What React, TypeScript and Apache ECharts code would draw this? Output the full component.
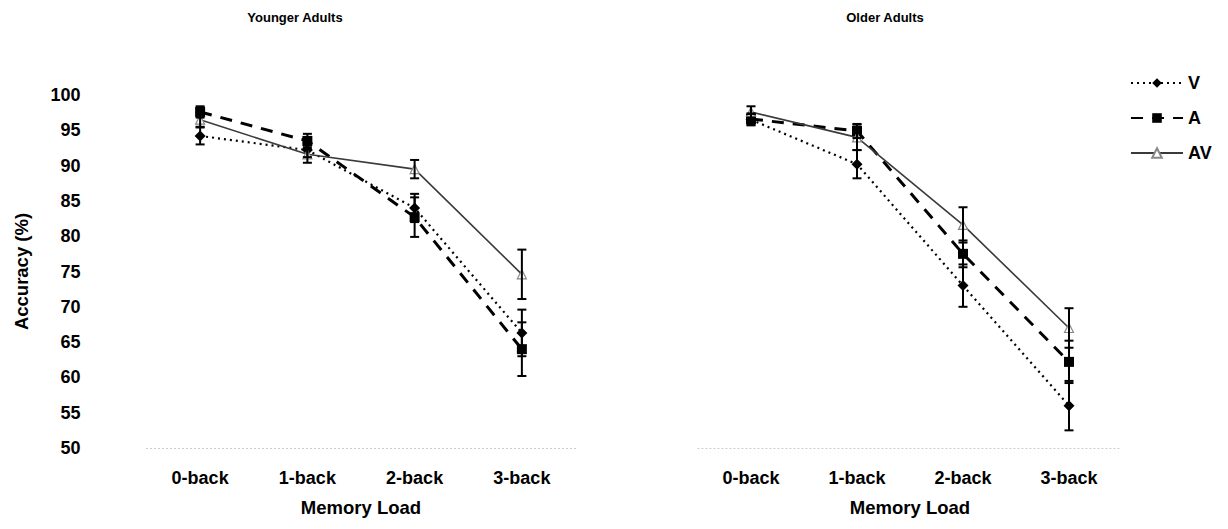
import React, { useEffect, useRef } from "react";
import * as echarts from "echarts";

const categories = ["0-back", "1-back", "2-back", "3-back"];
const yRange = [50, 100];

const youngV = [94.2, 92.2, 84.0, 66.3];
const youngVErr = [1.2, 1.0, 2.0, 3.3];
const youngA = [97.6, 93.5, 82.7, 64.0];
const youngAErr = [0.8, 1.0, 2.8, 3.8];
const youngAV = [96.5, 91.6, 89.5, 74.6];
const youngAVErr = [1.0, 1.2, 1.3, 3.5];

const oldV = [96.5, 90.2, 73.0, 56.0];
const oldVErr = [0.8, 2.0, 3.0, 3.5];
const oldA = [96.6, 94.9, 77.5, 62.2];
const oldAErr = [0.8, 1.0, 1.9, 3.0];
const oldAV = [97.6, 94.0, 81.6, 67.0];
const oldAVErr = [0.8, 1.8, 2.5, 2.8];

const FONT = "Liberation Sans, Arial, sans-serif";

function errData(vals: number[], errs: number[]) {
  return vals.map((v, i) => [i, v - errs[i], v + errs[i]]);
}

function errorSeries(idx: number, vals: number[], errs: number[]) {
  return {
    type: "custom",
    xAxisIndex: idx,
    yAxisIndex: idx,
    z: 5,
    silent: true,
    data: errData(vals, errs),
    encode: { x: 0, y: [1, 2] },
    renderItem: (params: any, api: any) => {
      const x = api.value(0);
      const lo = api.coord([x, api.value(1)]);
      const hi = api.coord([x, api.value(2)]);
      const hw = 4.5;
      const style = { stroke: "#000", lineWidth: 2 };
      return {
        type: "group",
        children: [
          { type: "line", shape: { x1: lo[0], y1: lo[1], x2: hi[0], y2: hi[1] }, style },
          { type: "line", shape: { x1: lo[0] - hw, y1: lo[1], x2: lo[0] + hw, y2: lo[1] }, style },
          { type: "line", shape: { x1: hi[0] - hw, y1: hi[1], x2: hi[0] + hw, y2: hi[1] }, style },
        ],
      };
    },
  };
}

function lineSeries(idx: number, name: string, data: number[]) {
  const base: any = {
    type: "line",
    name,
    xAxisIndex: idx,
    yAxisIndex: idx,
    data,
    z: 4,
  };
  if (name === "V") {
    base.symbol = "diamond";
    base.symbolSize = 11;
    base.itemStyle = { color: "#000" };
    base.lineStyle = { color: "#000", width: 2.2, type: [2, 4] };
  } else if (name === "A") {
    base.symbol = "rect";
    base.symbolSize = 10;
    base.itemStyle = { color: "#000" };
    base.lineStyle = { color: "#000", width: 3, type: [12, 9] };
  } else {
    base.symbol = "triangle";
    base.symbolSize = 9;
    base.itemStyle = { color: "#fff", borderColor: "#888", borderWidth: 1.2 };
    base.lineStyle = { color: "#3a3a3a", width: 1.6, type: "solid" };
  }
  return base;
}

export default function App() {
  const ref = useRef<HTMLDivElement>(null);
  useEffect(() => {
    document.body.style.margin = "0";
    document.body.style.overflow = "hidden";
    if (!ref.current) return;
    const chart = echarts.init(ref.current, null, { renderer: "svg" });
    const axisLabel = { fontFamily: FONT, fontWeight: "bold", fontSize: 18, color: "#000" };
    const nameStyle = { fontFamily: FONT, fontWeight: "bold", fontSize: 18.5, color: "#000" };
    const xAxisCommon = (idx: number) => ({
      type: "category",
      gridIndex: idx,
      data: categories,
      boundaryGap: true,
      axisLine: { show: true, lineStyle: { color: "#c8c8c8", type: [1, 3], width: 1 } },
      axisTick: { show: false },
      axisLabel: { ...axisLabel, margin: 21 },
      name: "Memory Load",
      nameLocation: "middle",
      nameGap: 50,
      nameTextStyle: nameStyle,
    });
    const yAxisCommon = (idx: number, showLabels: boolean) => ({
      type: "value",
      gridIndex: idx,
      min: yRange[0],
      max: yRange[1],
      interval: 5,
      axisLine: { show: false },
      axisTick: { show: false },
      splitLine: { show: false },
      axisLabel: { ...axisLabel, show: showLabels, margin: 66 },
      name: showLabels ? "Accuracy (%)" : "",
      nameLocation: "middle",
      nameGap: 116,
      nameRotate: 90,
      nameTextStyle: nameStyle,
    });
    chart.setOption({
      animation: false,
      backgroundColor: "#fff",
      grid: [
        { left: 146.5, top: 95, width: 429, height: 353, outerBoundsMode: "none", containLabel: false },
        { left: 698, top: 95, width: 424, height: 353, outerBoundsMode: "none", containLabel: false },
      ],
      xAxis: [xAxisCommon(0), xAxisCommon(1)],
      yAxis: [yAxisCommon(0, true), yAxisCommon(1, false)],
      legend: {
        orient: "vertical",
        left: 1125,
        top: 69,
        itemWidth: 52,
        itemHeight: 12,
        itemGap: 17,
        data: ["V", "A", "AV"],
        textStyle: { fontFamily: FONT, fontWeight: "bold", fontSize: 18, lineHeight: 18, color: "#000" },
      },
      graphic: [
        {
          type: "text",
          x: 295,
          y: 17,
          style: { text: "Younger Adults", align: "center", verticalAlign: "middle", font: "bold 13px " + FONT, fill: "#000" },
        },
        {
          type: "text",
          x: 885,
          y: 17,
          style: { text: "Older Adults", align: "center", verticalAlign: "middle", font: "bold 13px " + FONT, fill: "#000" },
        },
      ],
      series: [
        lineSeries(0, "V", youngV),
        lineSeries(0, "A", youngA),
        lineSeries(0, "AV", youngAV),
        errorSeries(0, youngV, youngVErr),
        errorSeries(0, youngA, youngAErr),
        errorSeries(0, youngAV, youngAVErr),
        lineSeries(1, "V", oldV),
        lineSeries(1, "A", oldA),
        lineSeries(1, "AV", oldAV),
        errorSeries(1, oldV, oldVErr),
        errorSeries(1, oldA, oldAErr),
        errorSeries(1, oldAV, oldAVErr),
      ],
    });
    return () => chart.dispose();
  }, []);
  return <div ref={ref} style={{ width: 1228, height: 529 }} />;
}
